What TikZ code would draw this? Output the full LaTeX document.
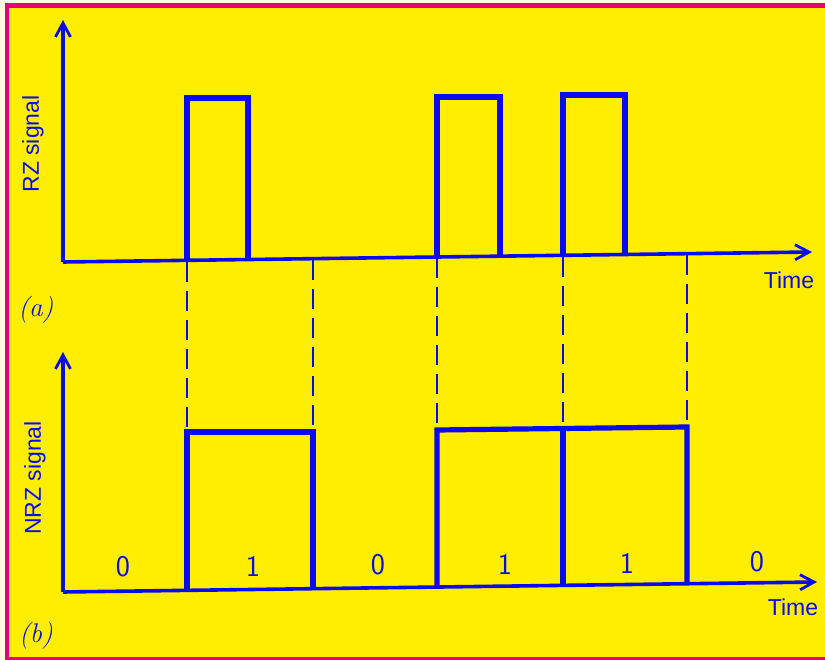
\documentclass[tikz,border=0pt]{standalone}
\usepackage{fontspec}
\setsansfont{Liberation Sans}
\usetikzlibrary{arrows.meta}
\definecolor{bg}{HTML}{FFEE00}
\definecolor{frame}{HTML}{E6007E}
\definecolor{cream}{HTML}{FFFDE0}
\definecolor{sig}{HTML}{0A0AF0}
\tikzset{
  axis/.style={draw=sig, line width=3.6pt, -{Straight Barb[length=14pt,width=15pt,line width=2.8pt]}},
  pulse/.style={draw=sig, line width=5.2pt, line join=miter},
  guide/.style={draw=sig, line width=2.4pt, dash pattern=on 20pt off 9pt},
  lbl/.style={text=sig, font=\sffamily\fontsize{23}{23}\selectfont, inner sep=0pt},
  bit/.style={text=sig, font=\fontsize{30}{30}\fontfamily{lmss}\selectfont, inner sep=0pt},
  part/.style={text=sig, font=\itshape\fontsize{27}{27}\selectfont, inner sep=0pt}
}
\begin{document}
\begin{tikzpicture}[x=1pt,y=-1pt]
\useasboundingbox (0,0) rectangle (825,660);
\fill[cream] (0,0) rectangle (825,660);
\fill[frame] (5,3) rectangle (825,660);
\fill[bg] (9,8) rectangle (825,657);

% ---------- RZ ----------
\coordinate (o1) at (63,262);
\coordinate (ty1) at (63,20);
\coordinate (tx1) at (812,252);
\draw[axis] (o1) -- (ty1);
\draw[axis] (o1) -- (tx1);
\draw[pulse] (187,260.3) -- (187,98) -- (248,98) -- (248,259.5);
\draw[pulse] (437,257) -- (437,97) -- (500,97) -- (500,256.2);
\draw[pulse] (563,255.3) -- (563,95) -- (625,95) -- (625,254.5);
\node[lbl] (t1) at (789,280) {Time};
\node[lbl, rotate=90] (rz) at (33,144) {RZ signal};
\node[part] (pa) at (36,310) {(a)};

% ---------- NRZ ----------
\coordinate (o2) at (63,592);
\coordinate (ty2) at (63,352);
\coordinate (tx2) at (817,582);
\draw[axis] (o2) -- (ty2);
\draw[axis] (o2) -- (tx2);
\draw[pulse] (187,590.4) -- (187,432) -- (313,432) -- (313,588.7);
\draw[pulse] (437,587) -- (437,430) -- (687,427) -- (687,583.7);
\draw[pulse] (563,428.5) -- (563,585.4);
\node[lbl] (t2) at (793,607) {Time};
\node[lbl, rotate=90] (nrz) at (35,478) {NRZ signal};
\node[part] (pb) at (36,636) {(b)};

% bits
\node[bit] (b1) at (123,567) {0};
\node[bit] (b2) at (253,566) {1};
\node[bit] (b3) at (378,565) {0};
\node[bit] (b4) at (505,564) {1};
\node[bit] (b5) at (627,563) {1};
\node[bit] (b6) at (757,562) {0};

% dashed guides
\draw[guide] (187,262) -- (187,432);
\draw[guide] (313,260) -- (313,432);
\draw[guide] (437,258) -- (437,430);
\draw[guide] (563,257) -- (563,428.5);
\draw[guide] (687,255) -- (687,427);
\end{tikzpicture}
\end{document}
